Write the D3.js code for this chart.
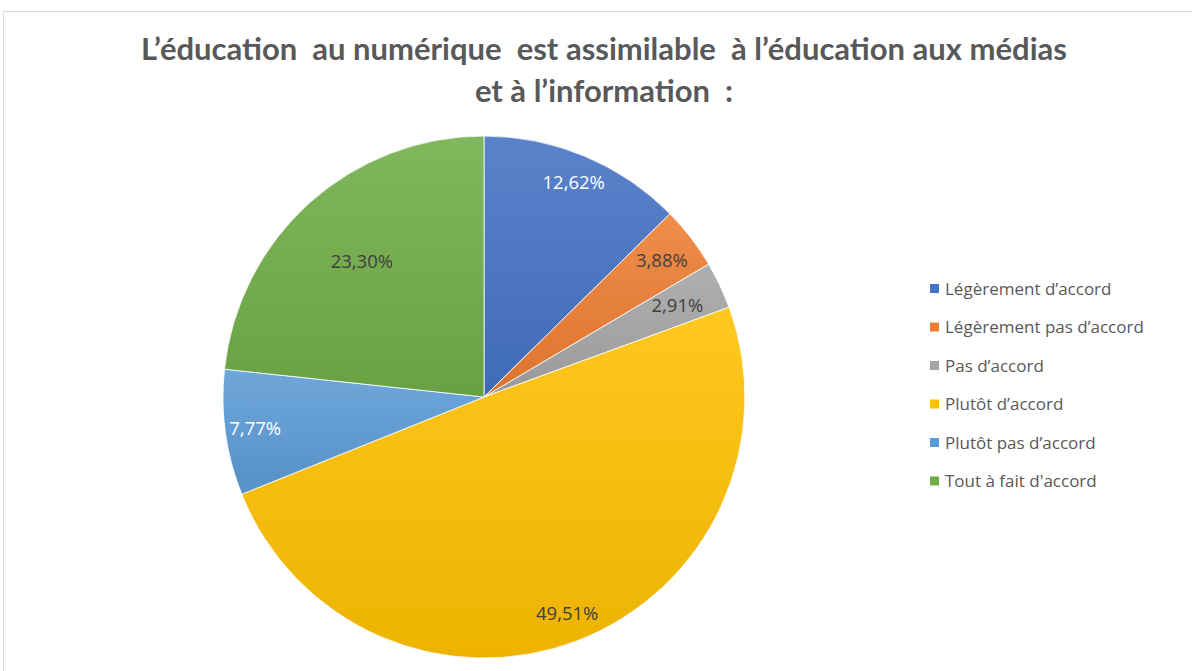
<!DOCTYPE html>
<html>
<head>
<meta charset="utf-8">
<script src="https://cdn.jsdelivr.net/npm/d3@7"></script>
<style>
  body { margin: 0; background: #fff; }
  svg { display: block; }
</style>
</head>
<body>
<div id="chart"></div>
<script>
// ---- data
var categories = ["Légèrement d’accord", "Légèrement pas d’accord", "Pas d’accord",
                  "Plutôt d’accord", "Plutôt pas d’accord", "Tout à fait d'accord"];
var values = [12.62, 3.88, 2.91, 49.51, 7.77, 23.30];
var labels = ["12,62%", "3,88%", "2,91%", "49,51%", "7,77%", "23,30%"];
var titleLines = ["L’éducation  au numérique  est assimilable  à l’éducation aux médias",
                  "et à l’information  :"];

// ---- styling
var colors = ["#4472c4", "#ed7d31", "#a5a5a5", "#ffc000", "#5b9bd5", "#70ad47"];
var labelColors = ["#ffffff", "#404040", "#404040", "#404040", "#ffffff", "#404040"];
// how far out each label sits (fraction of radius), excel "best fit" look
var labelRadius = [0.89, 0.86, 0.82, 0.89, 0.885, 0.70];

var width = 1192, height = 671;
var cx = 484, cy = 397, radius = 261;

var svg = d3.select("#chart")
  .append("svg")
    .attr("width", width)
    .attr("height", height);

// chart frame
svg.append("rect")
    .attr("x", 3.5).attr("y", 11.5)
    .attr("width", 1200).attr("height", 700)
    .attr("fill", "#fff")
    .attr("stroke", "#d9d9d9");

var defs = svg.append("defs");
colors.forEach(function(c, i) {
  var g = defs.append("linearGradient")
      .attr("id", "grad" + i)
      .attr("x1", 0).attr("y1", 0).attr("x2", 0).attr("y2", 1);
  g.append("stop").attr("offset", "0%").attr("stop-color", d3.interpolateRgb(c, "#fff")(0.12));
  g.append("stop").attr("offset", "100%").attr("stop-color", d3.interpolateRgb(c, "#000")(0.07));
});

// title
var title = svg.append("text")
    .attr("text-anchor", "middle")
    .attr("font-family", "Lato, 'Open Sans', sans-serif")
    .attr("font-weight", "bold")
    .attr("font-size", 31)
    .attr("fill", "#595959");
title.selectAll("tspan")
  .data(titleLines)
  .enter().append("tspan")
    .attr("x", 604)
    .attr("y", function(d, i) { return 60 + i * 42; })
    .attr("xml:space", "preserve")
    .style("white-space", "pre")
    .text(function(d) { return d; });

// pie
var pie = d3.pie().sort(null).value(function(d) { return d; });
var arc = d3.arc().innerRadius(0).outerRadius(radius);
var arcs = pie(values);

var g = svg.append("g")
    .attr("transform", "translate(" + cx + "," + cy + ")");

g.selectAll("path.slice")
  .data(arcs)
  .enter().append("path")
    .attr("class", "slice")
    .attr("d", arc)
    .attr("fill", function(d, i) { return "url(#grad" + i + ")"; })
    .attr("stroke", "#ffffff")
    .attr("stroke-width", 0.8);

g.selectAll("text.lbl")
  .data(arcs)
  .enter().append("text")
    .attr("class", "lbl")
    .attr("transform", function(d, i) {
      var a = (d.startAngle + d.endAngle) / 2, r = radius * labelRadius[i];
      return "translate(" + (Math.sin(a) * r) + "," + (-Math.cos(a) * r) + ")";
    })
    .attr("dy", "0.35em")
    .attr("text-anchor", "middle")
    .attr("font-family", "'Open Sans', sans-serif")
    .attr("font-size", 18.5)
    .attr("fill", function(d, i) { return labelColors[i]; })
    .text(function(d, i) { return labels[i]; });

// legend
var legend = svg.append("g")
    .attr("transform", "translate(930,289)");

var item = legend.selectAll("g")
  .data(categories)
  .enter().append("g")
    .attr("transform", function(d, i) { return "translate(0," + (i * 38.5) + ")"; });

item.append("rect")
    .attr("x", 0).attr("y", -5)
    .attr("width", 9).attr("height", 9)
    .attr("fill", function(d, i) { return colors[i]; });

item.append("text")
    .attr("x", 15)
    .attr("dy", "0.35em")
    .attr("font-family", "'Open Sans', sans-serif")
    .attr("font-size", 17)
    .attr("fill", "#595959")
    .text(function(d) { return d; });
</script>
</body>
</html>
